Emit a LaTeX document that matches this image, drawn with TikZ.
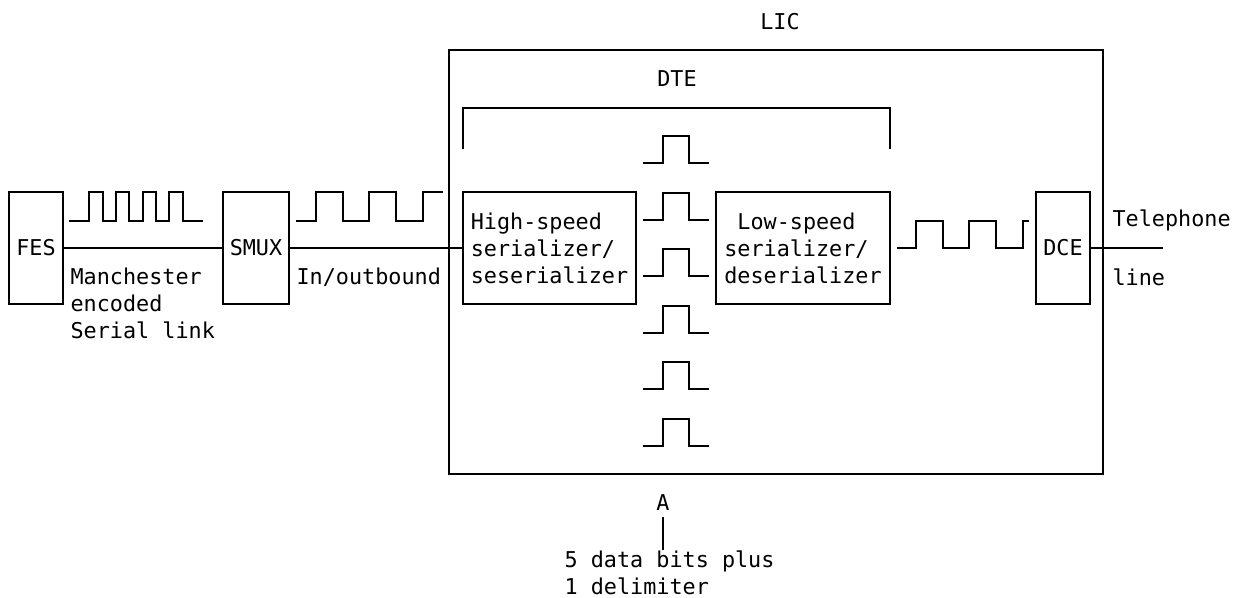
\documentclass[tikz,border=0pt]{standalone}
\usepackage{fontspec}
\setmonofont{DejaVu Sans Mono}
\usetikzlibrary{positioning,calc}

\begin{document}
\begin{tikzpicture}[x=0.02cm, y=-0.02cm, line width=0.7pt,
    font=\ttfamily\fontsize{12.4}{15.4}\selectfont,
    unit/.style={draw, inner sep=0pt, minimum height=2.24cm},
    note/.style={inner sep=0pt, align=left, anchor=west}]

    % Picture frame
    \useasboundingbox (0,0) rectangle (1235,598);

    % LIC box and DTE bracket
    \node[draw, minimum width=13.08cm, minimum height=8.48cm] (lic) at (776,262) {};
    \node (liclabel) at (780,22) {LIC};
    \node (dtelabel) at (677,79) {DTE};
    \draw (463,149) -- (463,108) -- (890,108) -- (890,149);

    % Units
    \node[unit, minimum width=1.08cm] (fes) at (36,248) {FES};
    \node[unit, minimum width=1.32cm] (smux) at (256,248) {SMUX};
    \node[unit, minimum width=3.46cm, align=left] (hs) at (549.5,248) {High-speed\\serializer/\\seserializer};
    \node[unit, minimum width=3.48cm, align=left] (ls) at (803,248) {\hphantom{x}Low-speed\\serializer/\\deserializer};
    \node[unit, minimum width=1.08cm] (dce) at (1063,248) {DCE};
    \coordinate (telend) at (1163,248);

    % Links
    \draw (fes) -- (smux);
    \draw (smux) -- (hs);
    \draw (dce) -- (telend);

    % Link labels
    \node[note] (manch) at (70,303) {Manchester\\encoded\\Serial link};
    \node[note] (inout) at (296,277) {In/outbound};
    \node[note] (tel) at (1112,220) {Telephone};
    \node[note] (line) at (1112,277) {line};

    % Waveforms
    \draw (69,221) -- (89,221) -- (89,192) -- (103,192) -- (103,221) -- (116,221) -- (116,192) -- (129,192)
        -- (129,221) -- (143,221) -- (143,192) -- (156,192) -- (156,221) -- (169,221) -- (169,192)
        -- (183,192) -- (183,221) -- (203,221);
    \draw (296,221) -- (316,221) -- (316,192) -- (343,192) -- (343,221) -- (369,221) -- (369,192)
        -- (396,192) -- (396,221) -- (423,221) -- (423,192) -- (443,192);
    \draw (897,248) -- (916,248) -- (916,221) -- (943,221) -- (943,248) -- (969,248) -- (969,221)
        -- (996,221) -- (996,248) -- (1023,248) -- (1023,221) -- (1029,221);

    % Parallel bits
    \foreach \y in {163,220,276,333,389,446}
        \draw (643,\y) -- ++(20,0) -- ++(0,-27) -- ++(26,0) -- ++(0,27) -- ++(20,0);

    % Note A
    \node (a) at (663,503) {A};
    \node[note] (bits) at (564,573) {5 data bits plus\\1 delimiter};
    \draw (a.south) -- (a.south |- bits.north);

\end{tikzpicture}
\end{document}
